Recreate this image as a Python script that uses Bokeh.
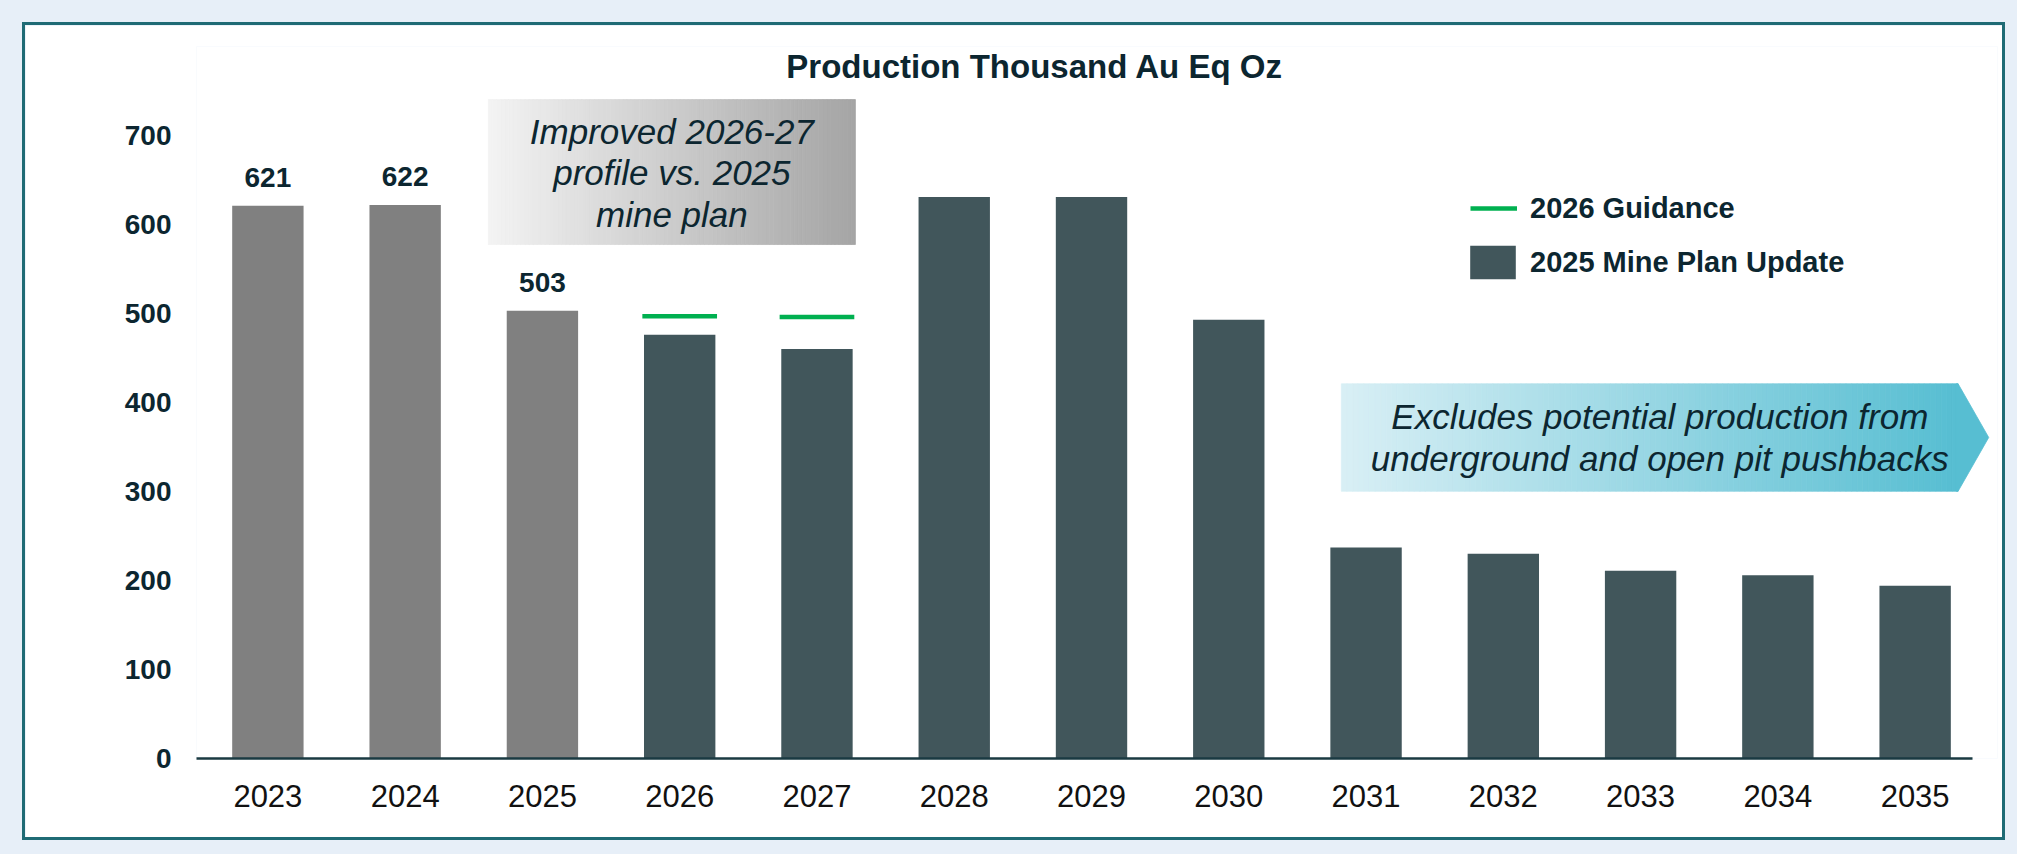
import numpy as np
from bokeh.plotting import figure
from bokeh.models import (ColumnDataSource, FixedTicker, Legend, LegendItem,
                          Label, GlobalInlineStyleSheet)
from bokeh.core.properties import value
from bokeh.embed import file_html
from bokeh.resources import INLINE

# ---------------- data ----------------
years = ["2023", "2024", "2025", "2026", "2027", "2028", "2029", "2030",
         "2031", "2032", "2033", "2034", "2035"]
production = [621, 622, 503, 476, 460, 631, 631, 493, 237, 230, 211, 206, 194]
labelled_years = ["2023", "2024", "2025"]          # grey bars with value labels
guidance_years = ["2026", "2027"]
guidance = [497, 496]
y_ticks = [0, 100, 200, 300, 400, 500, 600, 700]

title_text = "Production Thousand  Au Eq Oz"
box1_lines = ["Improved 2026-27", "profile vs. 2025", "mine plan"]
box2_lines = ["Excludes potential production from",
              "underground and open pit pushbacks"]

# ---------------- styles ----------------
FONT = "Liberation Sans"
DARK_TEXT = "#0C2630"
GREY = "#808080"
PLAN = "#41565B"
GREEN = "#00B050"
PAGE_BG = "#E7EFF8"
BORDER = "#1F6B75"

idx = {y: i for i, y in enumerate(years)}
hist_x = [idx[y] for y in years if y in labelled_years]
hist_top = [v for y, v in zip(years, production) if y in labelled_years]
hist_lbl = [str(v) for v in hist_top]
plan_x = [idx[y] for y in years if y not in labelled_years]
plan_top = [v for y, v in zip(years, production) if y not in labelled_years]
g_x = [idx[y] for y in guidance_years]

p = figure(width=1983, height=818, x_range=(-0.52, 12.6), y_range=(0, 800),
           output_backend="svg", toolbar_location=None,
           min_border_left=171, min_border_right=11,
           min_border_top=21, min_border_bottom=85)
p.background_fill_color = "white"
p.border_fill_color = "white"
p.outline_line_color = None
p.xgrid.visible = False
p.ygrid.visible = False
p.styles = {"border": "3px solid " + BORDER, "box-sizing": "border-box"}
p.stylesheets = [GlobalInlineStyleSheet(
    css="body { margin: 0; padding: 22px 0 0 22px; background-color: %s; }" % PAGE_BG)]

# ---------------- gradient boxes (annotations) ----------------
def hex2rgb(h):
    h = h.lstrip("#")
    return np.array([int(h[i:i + 2], 16) for i in (0, 2, 4)], dtype=float)

def gradient(c0, c1, n):
    a, b = hex2rgb(c0), hex2rgb(c1)
    out = []
    for t in np.linspace(0, 1, n):
        c = a + (b - a) * t
        out.append("#%02x%02x%02x" % tuple(int(round(v)) for v in c))
    return out

n1 = 90
xs1 = np.linspace(1.606, 4.280, n1 + 1)
cols1 = gradient("#F3F3F3", "#A5A5A5", n1)
p.quad(left=xs1[:-1], right=xs1[1:], bottom=577.5, top=740.4,
       fill_color=cols1, line_color=cols1, line_width=0.8)

n2 = 110
xs2 = np.linspace(7.82, 12.313, n2 + 1)
cols2 = gradient("#D8EFF5", "#57BED2", n2)
p.quad(left=xs2[:-1], right=xs2[1:], bottom=300.3, top=421.0,
       fill_color=cols2, line_color=cols2, line_width=0.8)
p.patch(x=[12.30, 12.313, 12.536, 12.313, 12.30],
        y=[421.0, 421.0, 360.7, 300.3, 300.3],
        fill_color=cols2[-1], line_color=cols2[-1], line_width=0.8)

p.text(x=[2.943] * 3, y=[704, 658, 611], text=box1_lines,
       text_font=value(FONT), text_font_style="italic", text_font_size="35px",
       text_align="center", text_baseline="alphabetic", text_color=DARK_TEXT)
p.text(x=[10.14] * 2, y=[383.8, 336.6], text=box2_lines,
       text_font=value(FONT), text_font_style="italic", text_font_size="35px",
       text_align="center", text_baseline="alphabetic", text_color=DARK_TEXT)

# ---------------- bars ----------------
hist_src = ColumnDataSource(dict(x=hist_x, top=hist_top, lbl=hist_lbl))
plan_src = ColumnDataSource(dict(x=plan_x, top=plan_top))
p.vbar(x="x", top="top", width=0.52, source=hist_src,
       fill_color=GREY, line_color=None)
plan_r = p.vbar(x="x", top="top", width=0.52, source=plan_src,
                fill_color=PLAN, line_color=None)
g_src = ColumnDataSource(dict(x0=[x - 0.272 for x in g_x],
                              x1=[x + 0.272 for x in g_x], y=guidance))
g_r = p.segment(x0="x0", x1="x1", y0="y", y1="y", source=g_src,
                line_color=GREEN, line_width=4.5)

p.text(x="x", y="top", text="lbl", source=hist_src, y_offset=-28,
       text_font=value(FONT), text_font_style="bold", text_font_size="28px",
       text_align="center", text_baseline="alphabetic", text_color=DARK_TEXT)

# ---------------- title ----------------
p.add_layout(Label(x=5.62, y=777, text=title_text, text_font=FONT,
                   text_font_style="bold", text_font_size="33px",
                   text_align="center", text_baseline="middle",
                   text_color=DARK_TEXT))

# ---------------- axes ----------------
xa = p.xaxis[0]
xa.ticker = FixedTicker(ticks=list(range(len(years))))
xa.major_label_overrides = {i: y for i, y in enumerate(years)}
xa.bounds = (-0.52, 12.42)
xa.axis_line_color = "#1A3A42"
xa.axis_line_width = 2.5
xa.major_tick_line_color = None
xa.minor_tick_line_color = None
xa.major_label_standoff = 20
xa.major_label_text_font = FONT
xa.major_label_text_font_size = "31px"
xa.major_label_text_color = "#111111"

ya = p.yaxis[0]
ya.ticker = FixedTicker(ticks=y_ticks)
ya.axis_line_color = None
ya.major_tick_line_color = None
ya.minor_tick_line_color = None
ya.major_label_standoff = 19
ya.major_label_text_font = FONT
ya.major_label_text_font_size = "28px"
ya.major_label_text_font_style = "bold"
ya.major_label_text_color = DARK_TEXT

# ---------------- legends ----------------
common = dict(padding=0, margin=0, border_line_color=None,
              background_fill_alpha=0, label_text_font=FONT,
              label_text_font_size="29px", label_text_font_style="bold",
              label_text_color=DARK_TEXT)
leg1 = Legend(items=[LegendItem(label="2026 Guidance", renderers=[g_r])],
              location=(1274, 533), glyph_width=47, glyph_height=34,
              label_height=34, label_standoff=13, **common)
leg2 = Legend(items=[LegendItem(label="2025 Mine Plan Update", renderers=[plan_r])],
              location=(1268, 475), glyph_width=57, glyph_height=42,
              label_height=42, label_standoff=9, **common)
p.add_layout(leg1, "center")
p.add_layout(leg2, "center")

open("out.html", "w").write(file_html(p, INLINE))
